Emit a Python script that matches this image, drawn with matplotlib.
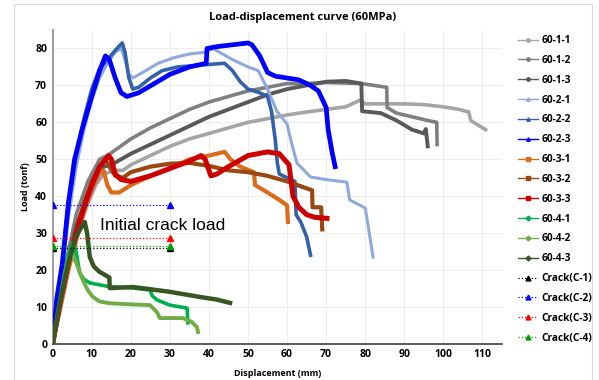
import matplotlib
matplotlib.use('Agg')
import matplotlib.pyplot as plt
from matplotlib.lines import Line2D
from matplotlib.patches import Rectangle

# ---- data (displacement mm, load tonf) ----
x_11 = [0, 3, 5, 7, 9, 11, 13, 16, 18, 20, 25, 30, 35, 40, 45, 50, 55, 60, 65, 70, 75, 78.7, 80, 85, 90, 95, 100, 104, 106.5, 107, 110.8]
y_11 = [0, 15, 25, 32, 38, 43, 46, 47, 47, 48.5, 51, 53.5, 55.5, 57, 58.5, 60, 61, 62, 62.8, 63.5, 64.2, 66, 65, 65, 65, 64.8, 64.2, 63.5, 62.8, 60.5, 58]

x_12 = [0, 3, 6, 9, 12, 14, 20, 25, 30, 35, 40, 45, 50, 55, 60, 65, 70, 79, 85.5, 85.6, 88, 92, 96, 98.3, 98.4]
y_12 = [0, 20, 35, 44, 50, 51, 55.5, 58.5, 61, 63.5, 65.5, 67, 68.5, 69.5, 70.5, 70.5, 70.8, 70.5, 69.5, 64, 62.5, 61.5, 60.5, 60, 54]

x_13 = [0, 3, 6, 10, 13, 15, 20, 30, 40, 50, 55, 60, 65, 70, 75, 79, 79.2, 84, 88, 92, 95, 95.5, 96]
y_13 = [0, 18, 32, 43, 48, 48.5, 51.5, 56.5, 61.5, 65.5, 67.5, 69, 70, 71, 71.2, 70.5, 63, 62.5, 60.5, 58, 57, 58.2, 53.5]

x_21 = [0, 2, 4, 6, 8, 10, 12, 14, 16, 17.5, 18.5, 19.5, 20.5, 23, 27, 31, 35, 39, 41, 46, 50, 52.6, 55, 57.4, 60, 61, 62.5, 66, 70, 75.3, 76, 80, 80.8, 82]
y_21 = [0, 16, 34, 48, 58, 66, 72, 76, 79, 80, 77, 73, 72, 73.5, 76, 77.5, 78.5, 79, 80, 77, 75, 74, 69, 63, 59.5, 55, 49, 45.2, 44.5, 43.8, 39, 36.8, 31.6, 23.5]

x_22 = [0, 2, 4, 6, 8, 10, 12, 14, 16, 17.8, 18.5, 19.5, 20.5, 22, 25, 28, 32, 38, 44, 46, 48, 50, 53, 55, 56, 57, 57.5, 58, 60, 62, 62.3, 63.5, 65, 66]
y_22 = [0, 18, 38, 51, 61, 69, 74.5, 77, 79.5, 81.5, 79, 72, 69, 69.5, 72, 74, 75, 75.5, 76, 74, 71, 69, 68, 67, 63, 55, 49, 46, 45, 44, 35, 33, 29, 24]

x_23 = [0, 1, 2.5, 4, 5.6, 7.5, 10, 12, 13.5, 14.5, 16, 17.5, 19, 22, 26, 30, 35, 39.3, 39.5, 42, 46, 50, 51, 53, 55, 57, 60, 63, 66, 68, 70, 70.5, 71.5, 72.3]
y_23 = [0, 12, 22, 38, 50, 58, 67, 74, 78, 77, 72, 68, 67, 68, 70.5, 73, 75, 76, 80, 80.5, 81, 81.5, 81, 78, 73.5, 72.5, 72, 71.5, 70, 68.5, 64, 58, 52, 48]

x_31 = [0, 2, 4, 6, 8, 10, 12, 13, 14, 15, 17, 20, 25, 30, 35, 40, 44, 45.5, 48, 51.5, 51.8, 55, 58, 60, 60.2]
y_31 = [0, 10, 20, 28, 36, 42, 46.5, 47, 43, 41, 41, 43, 45.5, 47.5, 50, 51, 52, 50, 48, 46.5, 43, 41, 39, 37.5, 33]

x_32 = [0, 2, 4, 6, 8, 10, 12, 13.5, 14.5, 16, 18, 20, 25, 30, 35, 40, 45, 50, 55, 60, 64, 66.4, 66.5, 68.7, 69]
y_32 = [0, 12, 22, 30, 38, 44, 48, 50, 48, 45.5, 45, 46.5, 48, 48.8, 49, 48.2, 47, 46.5, 45.5, 44, 42.5, 41.6, 37, 37, 31]

x_33 = [0, 2, 4, 6, 8, 10, 12, 14.3, 15, 16, 17.5, 20, 25, 30, 35, 38, 39, 40.5, 42, 45, 50, 55, 58, 60.5, 61.5, 63, 65, 67, 70.2]
y_33 = [0, 12, 22, 30, 37, 43, 48, 51, 50, 46, 44.5, 44, 45.5, 47.5, 49.5, 51, 50, 45.5, 46, 48, 51, 52, 51.5, 48.5, 40, 37, 35, 34.3, 34]

x_41 = [0, 1.5, 3, 4, 5.1, 6, 6.9, 8, 9.5, 12, 14.6, 20, 24.9, 25.5, 26.7, 30, 34.4, 34.6]
y_41 = [0, 10, 19, 24, 27.3, 25, 19.2, 17.5, 16.5, 16, 15.5, 15.2, 14.6, 13, 11.9, 10.5, 9.7, 5.7]

x_42 = [0, 1.5, 3, 4, 4.9, 6, 7.7, 9, 10.3, 12, 14.6, 20, 24.9, 26.7, 27.4, 30, 33.3, 35.5, 36.9, 37.2]
y_42 = [0, 9, 18, 23, 24.6, 22, 17.3, 14.5, 12.7, 11.5, 11, 10.7, 10.5, 8.6, 7, 7, 7, 6, 4.6, 3.2]

x_43 = [0, 2, 4, 6, 7, 8.2, 8.8, 9.5, 10.5, 12, 14.5, 14.6, 20.5, 25, 30, 37.7, 42, 45.4]
y_43 = [0, 12, 22, 29, 31, 33, 30, 23.5, 21, 19.5, 18, 15.1, 15.4, 14.8, 14.1, 12.7, 12, 11.1]

crack_x = [0, 30]
crack_c1 = 26.0
crack_c2 = 37.6
crack_c3 = 28.6
crack_c4 = 26.4

series = [
    ('60-1-1', x_11, y_11, '#A5A5A5', 'o', 2.6),
    ('60-1-2', x_12, y_12, '#7F7F7F', 'o', 2.6),
    ('60-1-3', x_13, y_13, '#595959', 'o', 2.8),
    ('60-2-1', x_21, y_21, '#8EA9DB', '^', 2.2),
    ('60-2-2', x_22, y_22, '#3462AA', '^', 2.6),
    ('60-2-3', x_23, y_23, '#0000FF', '^', 3.4),
    ('60-3-1', x_31, y_31, '#DD6B1C', 's', 3.0),
    ('60-3-2', x_32, y_32, '#9A4812', 's', 3.0),
    ('60-3-3', x_33, y_33, '#CC0000', 's', 3.6),
    ('60-4-1', x_41, y_41, '#00B050', 'D', 2.6),
    ('60-4-2', x_42, y_42, '#70AD47', 'D', 2.8),
    ('60-4-3', x_43, y_43, '#375623', 'D', 3.2),
]
cracks = [
    ('Crack(C-1)', crack_c1, '#000000'),
    ('Crack(C-2)', crack_c2, '#0000FF'),
    ('Crack(C-3)', crack_c3, '#FF0000'),
    ('Crack(C-4)', crack_c4, '#00A000'),
]

plt.rcParams['font.family'] = ['Open Sans', 'DejaVu Sans']

fig = plt.figure(figsize=(5.99, 3.80), dpi=100)
ax = fig.add_axes([0.088, 0.095, 0.75, 0.826])

handles = []
for name, xs, ys, col, mk, lw in series:
    ax.plot(xs, ys, color=col, lw=lw, solid_joinstyle='round', zorder=3)
    handles.append(Line2D([], [], color=col, lw=1.0, marker=mk, markersize=2.5, label=name))

for name, yv, col in cracks:
    ax.plot(crack_x, [yv, yv], color=col, lw=0.9, ls=':', marker='^', markersize=4, zorder=4)
    handles.append(Line2D([], [], color=col, lw=0.9, ls=':', marker='^', markersize=3.5, label=name))

ax.text(12, 32, 'Initial crack load', fontsize=12.5, family='Liberation Sans', va='center', zorder=5)

ax.set_xlim(0, 115)
ax.set_ylim(0, 85)
ax.set_xticks(range(0, 111, 10))
ax.set_yticks(range(0, 81, 10))
ax.grid(True, color='#EDEDED', lw=0.7)
ax.set_axisbelow(True)
for s in ['top', 'right']:
    ax.spines[s].set_visible(False)
ax.spines['left'].set_color('#A0A0A0')
ax.spines['left'].set_linewidth(1.5)
ax.spines['bottom'].set_color('#404040')
ax.spines['bottom'].set_linewidth(1.2)
ax.tick_params(length=0, labelsize=7.5, pad=4)
for lab in ax.get_xticklabels() + ax.get_yticklabels():
    lab.set_fontweight('bold')

ax.set_xlabel('Displacement (mm)', fontsize=6.5, fontweight='bold', labelpad=6)
ax.set_ylabel('Load (tonf)', fontsize=6.5, fontweight='bold', labelpad=4)
fig.text(0.505, 0.953, 'Load-displacement curve (60MPa)', ha='center', va='center',
         fontsize=8, fontweight='bold')

leg = fig.legend(handles=handles, loc='upper left', bbox_to_anchor=(0.858, 0.918),
                 frameon=False, fontsize=7.3, handlelength=2.0, labelspacing=0.87,
                 handletextpad=0.3, borderaxespad=0)
for t in leg.get_texts():
    t.set_fontweight('bold')

fig.patches.append(Rectangle((0.024, -0.01), 0.964, 1.0, transform=fig.transFigure,
                             fill=False, edgecolor='#D9D9D9', lw=0.8))

fig.savefig('out.png', dpi=100)
